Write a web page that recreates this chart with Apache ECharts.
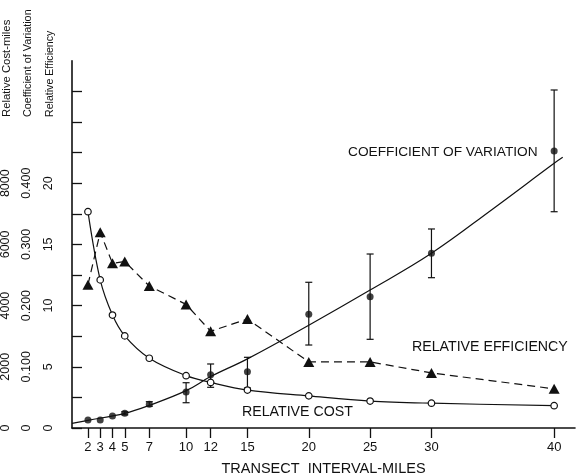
<!DOCTYPE html>
<html>
<head>
<meta charset="utf-8">
<script src="https://cdn.jsdelivr.net/npm/echarts@6/dist/echarts.min.js"></script>
<style>
  html, body { margin: 0; padding: 0; background: #fff; overflow: hidden; }
  #chart { width: 578px; height: 476px; }
</style>
</head>
<body>
<div id="chart"></div>
<script>
// Transect interval (miles)
const intervals = [2, 3, 4, 5, 7, 10, 12, 15, 20, 25, 30, 40];
// Relative cost (cost-miles)
const relativeCost = [7070, 4840, 3690, 3010, 2280, 1710, 1490, 1240, 1050, 880, 810, 730];
// Relative efficiency
const relativeEfficiency = [11.7, 16.0, 13.45, 13.6, 11.6, 10.1, 7.9, 8.9, 5.4, 5.4, 4.5, 3.2];
// Coefficient of variation (observed)
const coefVariation = [0.013, 0.013, 0.0196, 0.024, 0.039, 0.059, 0.087, 0.092, 0.186, 0.2145, 0.2855, 0.4526];
// Error bar ranges of the coefficient of variation [interval, low, high]
const cvErrorBars = [
  [5, 0.0215, 0.0265],
  [7, 0.0355, 0.043],
  [10, 0.0413, 0.074],
  [12, 0.0665, 0.1046],
  [15, 0.0654, 0.1155],
  [20, 0.1356, 0.2381],
  [25, 0.1449, 0.2843],
  [30, 0.2456, 0.3252],
  [40, 0.3534, 0.5523]
];
// Fitted curve of the coefficient of variation
const cvCurveX = [0.7, 2, 5, 7, 10, 12, 15, 20, 25, 30, 35, 40, 40.7];
const cvCurveY = [0.0077, 0.0125, 0.024, 0.037, 0.061, 0.084, 0.113, 0.168, 0.2255, 0.2855, 0.358, 0.4326, 0.4423];

// Axis ticks / labels
const effTicks = [0, 2.5, 5, 7.5, 10, 12.5, 15, 17.5, 20, 22.5, 25, 27.5];
const effLabels = [0, 5, 10, 15, 20];
const costLabels = [0, 2000, 4000, 6000, 8000];
const cvLabels = [0, 0.1, 0.2, 0.3, 0.4];

const ink = '#111';
const FONT = '"Liberation Sans", Arial, sans-serif';

const chart = echarts.init(document.getElementById('chart'), null, { renderer: 'canvas', width: 578, height: 476 });

const zip = (xs, ys) => xs.map((x, i) => [x, ys[i]]);

function errorBar(params, api) {
  const x = api.value(0), lo = api.value(1), hi = api.value(2);
  const a = api.coord([x, lo]);
  const b = api.coord([x, hi]);
  const w = 3.5;
  const st = { stroke: ink, lineWidth: 1.2 };
  return {
    type: 'group',
    children: [
      { type: 'line', shape: { x1: a[0], y1: a[1], x2: b[0], y2: b[1] }, style: st },
      { type: 'line', shape: { x1: a[0] - w, y1: a[1], x2: a[0] + w, y2: a[1] }, style: st },
      { type: 'line', shape: { x1: b[0] - w, y1: b[1], x2: b[0] + w, y2: b[1] }, style: st }
    ]
  };
}

const yLabelBase = { rotate: 90, color: ink, fontFamily: FONT, fontSize: 12.5 };

const option = {
  backgroundColor: '#fff',
  animation: false,
  grid: { left: 72, right: 3, top: 60.8, bottom: 48, containLabel: false, outerBoundsMode: 'none' },
  xAxis: {
    type: 'value',
    min: 0.7,
    max: 41.7,
    name: 'TRANSECT  INTERVAL-MILES',
    nameLocation: 'middle',
    nameGap: 33,
    nameTextStyle: { color: ink, fontFamily: FONT, fontSize: 14.5 },
    axisLine: { show: true, lineStyle: { color: ink, width: 1.6 } },
    axisTick: { show: true, customValues: intervals, length: 10, lineStyle: { color: ink, width: 1.3 } },
    axisLabel: { customValues: intervals, color: ink, fontFamily: FONT, fontSize: 13, margin: 13 },
    splitLine: { show: false }
  },
  yAxis: [
    {
      type: 'value', position: 'left', min: 0, max: 30,
      axisLine: { show: true, lineStyle: { color: ink, width: 1.6 } },
      axisTick: { show: true, inside: true, length: 10, customValues: effTicks, lineStyle: { color: ink, width: 1.3 } },
      axisLabel: Object.assign({ customValues: effLabels, margin: 17, formatter: v => String(v) }, yLabelBase),
      splitLine: { show: false }
    },
    {
      type: 'value', position: 'left', min: 0, max: 12000,
      axisLine: { show: false }, axisTick: { show: false },
      axisLabel: Object.assign({ customValues: costLabels, margin: 60, formatter: v => String(v) }, yLabelBase),
      splitLine: { show: false }
    },
    {
      type: 'value', position: 'left', min: 0, max: 0.6,
      axisLine: { show: false }, axisTick: { show: false },
      axisLabel: Object.assign({
        customValues: cvLabels, margin: 39,
        formatter: v => (v === 0 ? '0' : v.toFixed(3))
      }, yLabelBase),
      splitLine: { show: false }
    }
  ],
  series: [
    {
      name: 'Relative cost', type: 'line', yAxisIndex: 1,
      data: zip(intervals, relativeCost),
      smooth: 0.35,
      symbol: 'circle', symbolSize: 6.5,
      itemStyle: { color: '#fff', borderColor: ink, borderWidth: 1.2 },
      lineStyle: { color: ink, width: 1.2 },
      z: 3
    },
    {
      name: 'Relative efficiency', type: 'line', yAxisIndex: 0,
      data: zip(intervals, relativeEfficiency),
      symbol: 'triangle', symbolSize: [11, 10],
      itemStyle: { color: ink },
      lineStyle: { color: ink, width: 1.2, type: [8, 5] },
      z: 3
    },
    {
      name: 'CV fit', type: 'line', yAxisIndex: 2,
      data: zip(cvCurveX, cvCurveY),
      smooth: 0.4, symbol: 'none',
      lineStyle: { color: ink, width: 1.2 },
      z: 2
    },
    {
      name: 'CV error', type: 'custom', yAxisIndex: 2,
      renderItem: errorBar,
      encode: { x: 0, y: [1, 2] },
      data: cvErrorBars,
      z: 2
    },
    {
      name: 'Coefficient of variation', type: 'scatter', yAxisIndex: 2,
      data: zip(intervals, coefVariation),
      symbol: 'circle', symbolSize: 7,
      itemStyle: { color: ink },
      z: 4
    }
  ],
  graphic: [
    { type: 'text', x: 7, y: 117, rotation: Math.PI / 2,
      style: { text: 'Relative Cost-miles', fill: ink, font: '11.3px ' + FONT, textAlign: 'left', textVerticalAlign: 'middle' } },
    { type: 'text', x: 28.5, y: 117, rotation: Math.PI / 2,
      style: { text: 'Coefficient of Variation', fill: ink, font: '10.8px ' + FONT, textAlign: 'left', textVerticalAlign: 'middle' } },
    { type: 'text', x: 50, y: 117, rotation: Math.PI / 2,
      style: { text: 'Relative Efficiency', fill: ink, font: '10.6px ' + FONT, textAlign: 'left', textVerticalAlign: 'middle' } },
    { type: 'text', x: 348, y: 152,
      style: { text: 'COEFFICIENT OF VARIATION', fill: ink, font: '13.7px ' + FONT, textAlign: 'left', textVerticalAlign: 'middle' } },
    { type: 'text', x: 412, y: 347,
      style: { text: 'RELATIVE EFFICIENCY', fill: ink, font: '14.2px ' + FONT, textAlign: 'left', textVerticalAlign: 'middle' } },
    { type: 'text', x: 242, y: 412,
      style: { text: 'RELATIVE COST', fill: ink, font: '14.2px ' + FONT, textAlign: 'left', textVerticalAlign: 'middle' } }
  ]
};

chart.setOption(option);
</script>
</body>
</html>
